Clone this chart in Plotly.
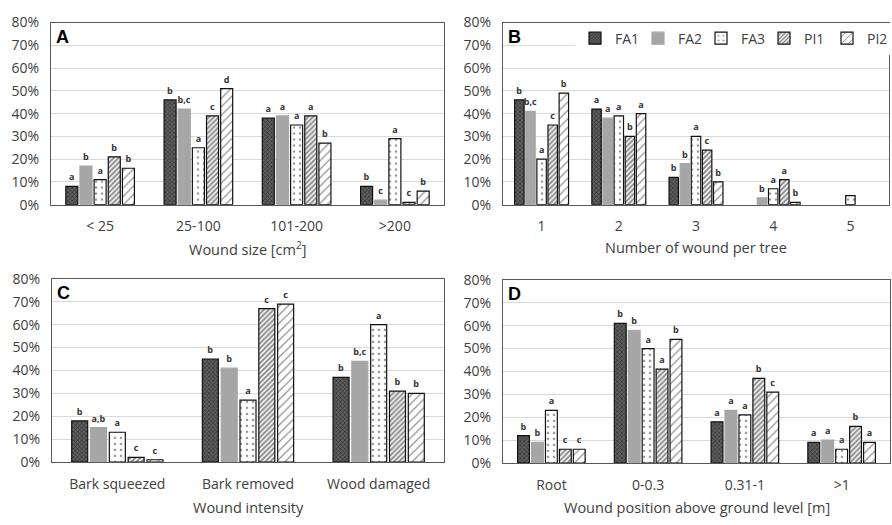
import plotly.graph_objects as go

series = ["FA1", "FA2", "FA3", "PI1", "PI2"]

# Panel A - wound size
cats_a = ["< 25", "25-100", "101-200", ">200"]
a_fa1 = [8, 46, 38, 8]
a_fa2 = [17, 42, 39, 2]
a_fa3 = [11, 25, 35, 29]
a_pi1 = [21, 39, 39, 1]
a_pi2 = [16, 51, 27, 6]
l_a_fa1 = ["a", "b", "a", "b"]
l_a_fa2 = ["b", "b,c", "a", "c"]
l_a_fa3 = ["a", "a", "a", "a"]
l_a_pi1 = ["b", "c", "a", "c"]
l_a_pi2 = ["b", "d", "b", "b"]

# Panel B - number of wounds per tree
cats_b = ["1", "2", "3", "4", "5"]
b_fa1 = [46, 42, 12, 0, 0]
b_fa2 = [41, 38, 18, 3, 0]
b_fa3 = [20, 39, 30, 7, 4]
b_pi1 = [35, 30, 24, 11, 0]
b_pi2 = [49, 40, 10, 1, 0]
l_b_fa1 = ["b", "a", "b", None, None]
l_b_fa2 = ["b,c", "a", "b", "b", None]
l_b_fa3 = ["a", "a", "a", "a", None]
l_b_pi1 = ["c", "b", "c", "a", None]
l_b_pi2 = ["b", "a", "b", "b", None]

# Panel C - wound intensity
cats_c = ["Bark squeezed", "Bark removed", "Wood damaged"]
c_fa1 = [18, 45, 37]
c_fa2 = [15, 41, 44]
c_fa3 = [13, 27, 60]
c_pi1 = [2, 67, 31]
c_pi2 = [1, 69, 30]
l_c_fa1 = ["b", "b", "b"]
l_c_fa2 = ["a,b", "b", "b,c"]
l_c_fa3 = ["a", "a", "a"]
l_c_pi1 = ["c", "c", "b"]
l_c_pi2 = ["c", "c", "b"]

# Panel D - wound position
cats_d = ["Root", "0-0.3", "0.31-1", ">1"]
d_fa1 = [12, 61, 18, 9]
d_fa2 = [9, 58, 23, 10]
d_fa3 = [23, 50, 21, 6]
d_pi1 = [6, 41, 37, 16]
d_pi2 = [6, 54, 31, 9]
l_d_fa1 = ["b", "b", "a", "a"]
l_d_fa2 = ["b", "b", "a", "a"]
l_d_fa3 = ["a", "a", "a", "a"]
l_d_pi1 = ["c", "a", "b", "b"]
l_d_pi2 = ["c", "b", "c", "a"]

panels = [
    (cats_a, [a_fa1, a_fa2, a_fa3, a_pi1, a_pi2], [l_a_fa1, l_a_fa2, l_a_fa3, l_a_pi1, l_a_pi2]),
    (cats_b, [b_fa1, b_fa2, b_fa3, b_pi1, b_pi2], [l_b_fa1, l_b_fa2, l_b_fa3, l_b_pi1, l_b_pi2]),
    (cats_c, [c_fa1, c_fa2, c_fa3, c_pi1, c_pi2], [l_c_fa1, l_c_fa2, l_c_fa3, l_c_pi1, l_c_pi2]),
    (cats_d, [d_fa1, d_fa2, d_fa3, d_pi1, d_pi2], [l_d_fa1, l_d_fa2, l_d_fa3, l_d_pi1, l_d_pi2]),
]

styles = [
    dict(color="#4a4a4a", line_color="#111111",
         pattern=dict(shape="x", fgcolor="#111111", bgcolor="#5e5e5e", size=3, solidity=0.45)),
    dict(color="#a6a6a6", line_color="#a6a6a6"),
    dict(color="white", line_color="#111111",
         pattern=dict(shape=".", fgcolor="#333333", bgcolor="white", size=6, solidity=0.15)),
    dict(color="white", line_color="#111111",
         pattern=dict(shape="/", fgcolor="#111111", bgcolor="white", size=3.5, solidity=0.55)),
    dict(color="white", line_color="#111111",
         pattern=dict(shape="/", fgcolor="#222222", bgcolor="white", size=6, solidity=0.2)),
]

W, H = 892, 525
def px_x(p): return p / W
def px_y(p): return 1 - p / H

domains = [
    ([px_x(51), px_x(444)], [px_y(202), px_y(13)]),
    ([px_x(503), px_x(889)], [px_y(202), px_y(13)]),
    ([px_x(52), px_x(444)], [px_y(469), px_y(279)]),
    ([px_x(503), px_x(890)], [px_y(470), px_y(280)]),
]

fig = go.Figure()
for i, (cats, vals, labs) in enumerate(panels):
    xa = "x" if i == 0 else f"x{i+1}"
    ya = "y" if i == 0 else f"y{i+1}"
    for j, name in enumerate(series):
        st = dict(styles[j])
        lc = st.pop("line_color")
        st["line"] = dict(color=lc, width=[0 if v == 0 else 1.2 for v in vals[j]])
        fig.add_trace(go.Bar(
            x=cats, y=vals[j], name=name, text=labs[j],
            textposition="outside", textangle=0, constraintext="none",
            textfont=dict(family="Open Sans", size=9, color="#333333", weight="bold"),
            cliponaxis=False, marker=st, xaxis=xa, yaxis=ya,
            showlegend=(i == 1), legendgroup=name,
        ))

axis_font = dict(family="Open Sans", size=14, color="#404040")
layout = dict(
    width=W, height=H, margin=dict(l=0, r=0, t=0, b=0),
    paper_bgcolor="white", plot_bgcolor="white",
    barmode="group", bargap=0.28, bargroupgap=0.15,
    showlegend=True,
    legend=dict(orientation="h", x=1 - 2 / W, xanchor="right", y=px_y(13), yanchor="top",
                bgcolor="white", font=dict(family="Open Sans", size=14, color="#404040"),
                itemwidth=30, traceorder="normal", entrywidth=18, entrywidthmode="pixels"),
)
for i, (dx, dy) in enumerate(domains):
    sfx = "" if i == 0 else str(i + 1)
    layout["xaxis" + sfx] = dict(domain=dx, anchor="y" + sfx, showline=True, mirror=True,
                                 linecolor="#595959", linewidth=1, tickfont=axis_font,
                                 ticks="", ticklabelstandoff=9, showgrid=False)
    layout["yaxis" + sfx] = dict(domain=dy, anchor="x" + sfx, range=[0, 80], dtick=10,
                                 ticksuffix="%", showline=True, mirror=True,
                                 linecolor="#595959", linewidth=1, tickfont=axis_font,
                                 gridcolor="#d9d9d9", ticks="", ticklabelstandoff=8,
                                 zeroline=False)
fig.update_layout(**layout)

letters = ["A", "B", "C", "D"]
titles = ["Wound size [cm<sup>2</sup>]", "Number of wound per tree",
          "Wound intensity", "Wound position above ground level [m]"]
title_y = [247, 246, 516, 516]
for i, (dx, dy) in enumerate(domains):
    fig.add_annotation(x=dx[0] + 0.003, y=dy[1] - 0.005, xref="paper", yref="paper",
                       text=letters[i], showarrow=False, xanchor="left", yanchor="top",
                       font=dict(family="Liberation Sans", size=18, color="black", weight="bold"))
    fig.add_annotation(x=(dx[0] + dx[1]) / 2, y=px_y(title_y[i]), xref="paper", yref="paper",
                       text=titles[i], showarrow=False, xanchor="center", yanchor="middle",
                       font=dict(family="Open Sans", size=14.5, color="#404040"))

fig.write_html("out.html", config={"displayModeBar": False},
               post_script="document.body.style.margin='0';")
